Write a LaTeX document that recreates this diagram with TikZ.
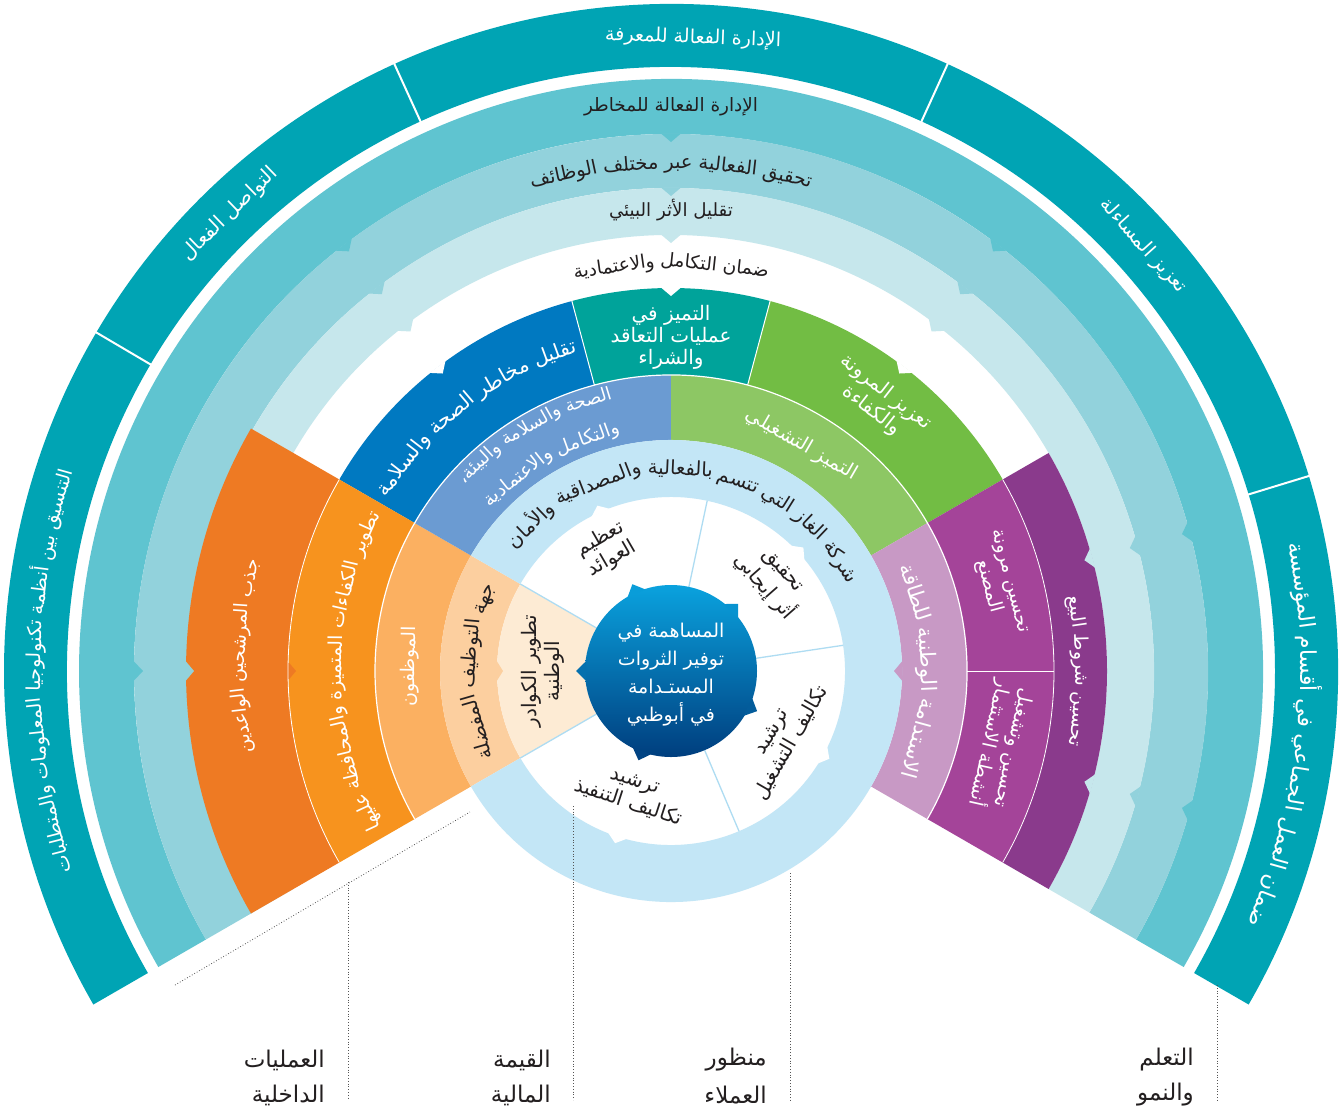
\documentclass[tikz,border=0pt]{standalone}
\usepackage{fontspec}
\newfontfamily\arabicfont[Script=Arabic]{DejaVu Sans}
\TeXXeTstate=1
\definecolor{cOut}{HTML}{00A4B4}
\definecolor{cRA}{HTML}{5FC4D0}
\definecolor{cRB}{HTML}{92D2DC}
\definecolor{cRC}{HTML}{C6E7EC}
\definecolor{cDB}{HTML}{0079C1}
\definecolor{cTe}{HTML}{00A39A}
\definecolor{cGr}{HTML}{72BD44}
\definecolor{cLBP}{HTML}{6B9BD2}
\definecolor{cLG}{HTML}{8DC764}
\definecolor{cLB}{HTML}{C3E6F6}
\definecolor{cLBline}{HTML}{AEDCF2}
\definecolor{cDP}{HTML}{8A3A8C}
\definecolor{cMP}{HTML}{A44499}
\definecolor{cLP}{HTML}{C899C5}
\definecolor{cOa}{HTML}{EE7A23}
\definecolor{cOb}{HTML}{F7931E}
\definecolor{cOc}{HTML}{FBB061}
\definecolor{cOd}{HTML}{FCCF9F}
\definecolor{cOe}{HTML}{FDEBD4}
\definecolor{cTxt}{HTML}{231F20}
\definecolor{cCTop}{HTML}{0AA2DE}
\definecolor{cCBot}{HTML}{003E7E}
\definecolor{cDot}{HTML}{555555}
\newlength\awl
\newlength\awtot
\newlength\awsp
\newcount\awcnt
\newcommand\ar[1]{{\arabicfont\beginR#1\endR}}
\newcommand\awmeasure[1]{\pgfinterruptpicture\settowidth{\awl}{\fontsize{10}{12}\arabicfont\beginR#1\endR}\global\awl=\awl\endpgfinterruptpicture}
% annular sector: colour, a1, a2, rin, rout
\newcommand\sect[5]{\fill[#1] (#2:#5pt) arc[start angle=#2,end angle=#3,radius=#5pt] -- (#3:#4pt) arc[start angle=#3,end angle=#2,radius=#4pt] -- cycle;}
% notch: colour, angle, radius, depth (positive = tip inward)
\newcommand\notch[4]{%
  \pgfmathsetmacro\nd{10/#3*57.29578}%
  \pgfmathsetmacro\na{#2-\nd}\pgfmathsetmacro\nb{#2+\nd}%
  \pgfmathsetmacro\nr{#3+0.6*sign(#4)}\pgfmathsetmacro\nt{#3-(#4)}%
  \fill[#1] (\na:\nr pt) -- (\nb:\nr pt) -- (#2:\nt pt) -- cycle;}
% words along an arc: radius, centre angle, colour, dir (1 tops outward, -1 tops inward), words, target length
\newcommand\arcwords[6]{%
  \global\awtot=0pt \xdef\awn{0}%
  \foreach \w in {#5}{\awmeasure{\w}\global\advance\awtot by \awl \pgfmathtruncatemacro\awtmp{\awn+1}\xdef\awn{\awtmp}}%
  \awmeasure{\ }\global\awsp=\awl
  \pgfmathsetmacro\awW{\awtot+(\awn-1)*\awsp}%
  \pgfmathsetmacro\awk{#6/\awW}%
  \pgfmathsetmacro\awfs{10*\awk}%
  \xdef\awcum{0}%
  \foreach \w in {#5}{%
    \awmeasure{\w}%
    \pgfmathsetmacro\awang{#2-(#4)*(#6/2-\awk*(\awcum+\awl/2))/(#1)*57.29578}%
    \pgfmathsetmacro\awrot{\awang-(#4)*90}%
    \pgfmathsetmacro\awrb{#1-(#4)*0.3*\awfs}%
    \global\advance\awcnt by 1
    \node[rotate=\awrot,inner sep=0pt,anchor=base,text=#3,name=aw\the\awcnt] at (\awang:\awrb pt) {\fontsize{\awfs}{\awfs}\arabicfont\beginR\w\endR};%
    \pgfmathsetmacro\awnext{\awcum+\awl+\awsp}%
    \xdef\awcum{\awnext}%
  }%
}
\tikzset{
  blk/.style={align=center,inner sep=0pt,text=cTxt,font=\fontsize{20}{23}\selectfont},
  wblk/.style={align=center,inner sep=0pt,text=white,font=\fontsize{19}{22}\selectfont},
  lbl/.style={align=right,inner sep=0pt,text=cTxt,font=\fontsize{23}{26}\selectfont},
  leader/.style={draw=cDot,line width=0.8pt,dash pattern=on 0.8pt off 2pt}
}
\begin{document}
\begin{tikzpicture}[x=1pt,y=1pt]
\useasboundingbox (0,-1109) rectangle (1343,0);
\fill[white] (0,-1109) rectangle (1343,0);
\begin{scope}[shift={(671,-671)}]
 % outer rings
 \sect{cOut}{-30}{210}{604}{667}
 \sect{cRA}{-30}{210}{537}{592}
 \sect{cRB}{-30}{210}{483}{537}
 \sect{cRC}{-30}{210}{436}{483}
 % strategic band
 \sect{cDB}{105}{150}{296}{383}
 \sect{cTe}{75}{105}{296}{383}
 \sect{cGr}{30}{75}{296}{383}
 \sect{cMP}{-30}{30}{296}{383}
 \sect{cDP}{-30}{30}{383}{436}
 % orange sector
 \sect{cOa}{150}{210}{383}{485}
 \sect{cOb}{150}{210}{296}{383}
 \sect{cOc}{150}{210}{231}{296}
 \sect{cOd}{150}{210}{174}{231}
 \sect{cOe}{150}{210}{86}{174}
 % light band
 \sect{cLBP}{90}{150}{231}{296}
 \sect{cLG}{30}{90}{231}{296}
 \sect{cLP}{-30}{30}{231}{296}
 % light blue ring
 \sect{cLB}{-150}{150}{174}{231}
 % notches
 \foreach \a in {127.5,90,52.5}{\notch{cRA}{\a}{537}{8}\notch{cRB}{\a}{483}{8}\notch{cRC}{\a}{436}{8}\notch{white}{\a}{383}{8}}
 \foreach \a in {15,-15}{\notch{cRA}{\a}{537}{8}\notch{cRB}{\a}{483}{8}\notch{cRC}{\a}{436}{8}}
 \notch{cRA}{180}{537}{9}\notch{cRB}{180}{485}{8}\notch{cOa}{180}{383}{8}\notch{cOd}{180}{174}{6}
 \notch{cLP}{0}{231}{8}
 \foreach \a in {114,43,-29,-108}{\notch{white}{\a}{174}{-7}}
 % white separators
 \draw[white,line width=1.2pt] (-30:296pt) arc[start angle=-30,end angle=210,radius=296pt];
 \draw[white,line width=0.8pt] (150:383pt) arc[start angle=150,end angle=210,radius=383pt];
 \draw[white,line width=0.8pt] (-30:383pt) arc[start angle=-30,end angle=30,radius=383pt];
 \foreach \a in {105,75,0}{\draw[white,line width=1pt] (\a:296pt) -- (\a:383pt);}
 \foreach \a in {149.5,114.5,65.5,17}{\draw[white,line width=2pt] (\a:600pt) -- (\a:670pt);}
 % light blue radial lines in inner ring
 \foreach \a in {150,78,8.5,-67,210}{\draw[cLBline,line width=1.3pt] (\a:86pt) -- (\a:174pt);}
 % central circle
 \shade[top color=cCTop,bottom color=cCBot] (0,0) circle[radius=86pt];
 \notch{cCTop!95!cCBot}{114}{86}{-9}
 \notch{cCTop!85!cCBot}{45}{86}{-9}
 \notch{cCTop!50!cCBot}{180}{86}{-9}
 \notch{cCTop!30!cCBot}{-25}{86}{-9}
 \notch{cCTop!5!cCBot}{-110}{86}{-9}
 \node[align=center,text=white,inner sep=0pt,font=\fontsize{19}{28}\selectfont] (ctr) at (0,-4) {\ar{المساهمة في}\\\ar{توفير الثروات}\\\ar{المستـدامة}\\\ar{في أبوظبي}};
 % outer ring texts
 \arcwords{634}{88}{white}{1}{\beginR الإدارة الفعالة للمعرفة\endR}{176}
 \arcwords{636}{134}{white}{1}{\beginR التواصل الفعال\endR}{125}
 \arcwords{636}{180}{white}{1}{التنسيق,بين,أنظمة,تكنولوجيا,المعلومات,والمتطلبات}{410}
 \arcwords{636}{42}{white}{1}{\beginR تعزيز المساءلة\endR}{120}
 \arcwords{636}{-6}{white}{1}{ضمان,العمل,الجماعي,في,أقسام,المؤسسة}{392}
 \arcwords{565}{90}{cTxt}{1}{\beginR الإدارة الفعالة للمخاطر\endR}{174}
 \arcwords{508}{90}{cTxt}{1}{تحقيق,الفعالية,عبر,مختلف,الوظائف}{285}
 \arcwords{460}{90}{cTxt}{1}{\beginR تقليل الأثر البيئي\endR}{124}
 \arcwords{408}{90}{cTxt}{1}{\beginR ضمان التكامل\endR,والاعتمادية}{196}
 % strategic band texts
 \arcwords{338}{127.5}{white}{1}{تقليل,مخاطر,الصحة,والسلامة}{250}
 \node[wblk,font=\fontsize{20}{22}\selectfont] (t-teal) at (90:334pt) {\ar{التميز في}\\\ar{عمليات التعاقد}\\\ar{والشراء}};
 \node[wblk,rotate=-38,font=\fontsize{20}{23}\selectfont] (t-green) at (52.4:340pt) {\ar{تعزيز المرونة}\\\ar{والكفاءة}};
 \arcwords{410}{0}{white}{1}{تحسين,شروط,البيع}{152}
 \node[wblk,rotate=-75] (t-mp1) at (14.9:338pt) {\ar{تحسين مرونة}\\\ar{المصنع}};
 \node[wblk,rotate=-102.7] (t-mp2) at (-12.7:338pt) {\ar{تحسين وتشغيل}\\\ar{أنشطة الاستثمار}};
 \arcwords{432}{178}{white}{1}{جذب,المرشحين,الواعدين}{196}
 \arcwords{335}{180}{white}{1}{تطوير,الكفاءات,المتميزة,والمحافظة,عليها}{330}
 % light band texts
 \arcwords{283}{120}{white}{1}{الصحة,والسلامة,والبيئة،}{176}
 \arcwords{247}{120}{white}{1}{والتكامل,والاعتمادية}{154}
 \arcwords{262}{60}{white}{1}{\beginR التميز التشغيلي\endR}{125}
 \arcwords{256}{0}{white}{1}{الاستدامة,الوطنية,للطاقة}{218}
 \arcwords{262}{179}{white}{1}{الموظفون}{80}
 % light blue ring text
 \arcwords{202}{84}{cTxt}{1}{شركة,الغاز,التي,تتسم,بالفعالية,والمصداقية,والأمان}{408}
 \arcwords{201}{180}{cTxt}{1}{جهة,التوظيف,المفضلة}{180}
 % inner ring texts
 \node[blk,rotate=90] (t-kaw) at (180:128pt) {\ar{تطوير الكوادر}\\\ar{الوطنية}};
 \node[blk,rotate=30] (t-taz) at (118:138pt) {\ar{تعظيم}\\\ar{العوائد}};
 \node[blk,rotate=-48.7] (t-tah) at (42:136pt) {\ar{تحقيق}\\\ar{أثر إيجابي}};
 \node[blk,rotate=60] (t-tsh) at (-31:130pt) {\ar{ترشيد}\\\ar{تكاليف التشغيل}};
 \node[blk,rotate=-18] (t-tnf) at (-108:128pt) {\ar{ترشيد}\\\ar{تكاليف التنفيذ}};
\end{scope}
% leader lines
\coordinate (d1a) at (175,-985); \coordinate (d1b) at (470,-812);
\coordinate (v1a) at (348,-882); \coordinate (v1b) at (348,-1100);
\coordinate (v2a) at (573,-806); \coordinate (v2b) at (573,-1100);
\coordinate (v3a) at (790,-873); \coordinate (v3b) at (790,-1100);
\coordinate (v4a) at (1217,-985); \coordinate (v4b) at (1217,-1100);
\draw[leader] (d1a) -- (d1b);
\draw[leader] (v1a) -- (v1b);
\draw[leader] (v2a) -- (v2b);
\draw[leader] (v3a) -- (v3b);
\draw[leader] (v4a) -- (v4b);
% perspective labels
\node[lbl,anchor=east] (l1a) at (325,-1060) {\ar{العمليات}};
\node[lbl,anchor=east] (l1b) at (325,-1095) {\ar{الداخلية}};
\node[lbl,anchor=east] (l2a) at (551,-1060) {\ar{القيمة}};
\node[lbl,anchor=east] (l2b) at (551,-1095) {\ar{المالية}};
\node[lbl,anchor=east] (l3a) at (767,-1060) {\ar{منظور}};
\node[lbl,anchor=east] (l3b) at (767,-1095) {\ar{العملاء}};
\node[lbl,anchor=east] (l4a) at (1194,-1060) {\ar{التعلم}};
\node[lbl,anchor=east] (l4b) at (1194,-1095) {\ar{والنمو}};
\end{tikzpicture}
\end{document}
